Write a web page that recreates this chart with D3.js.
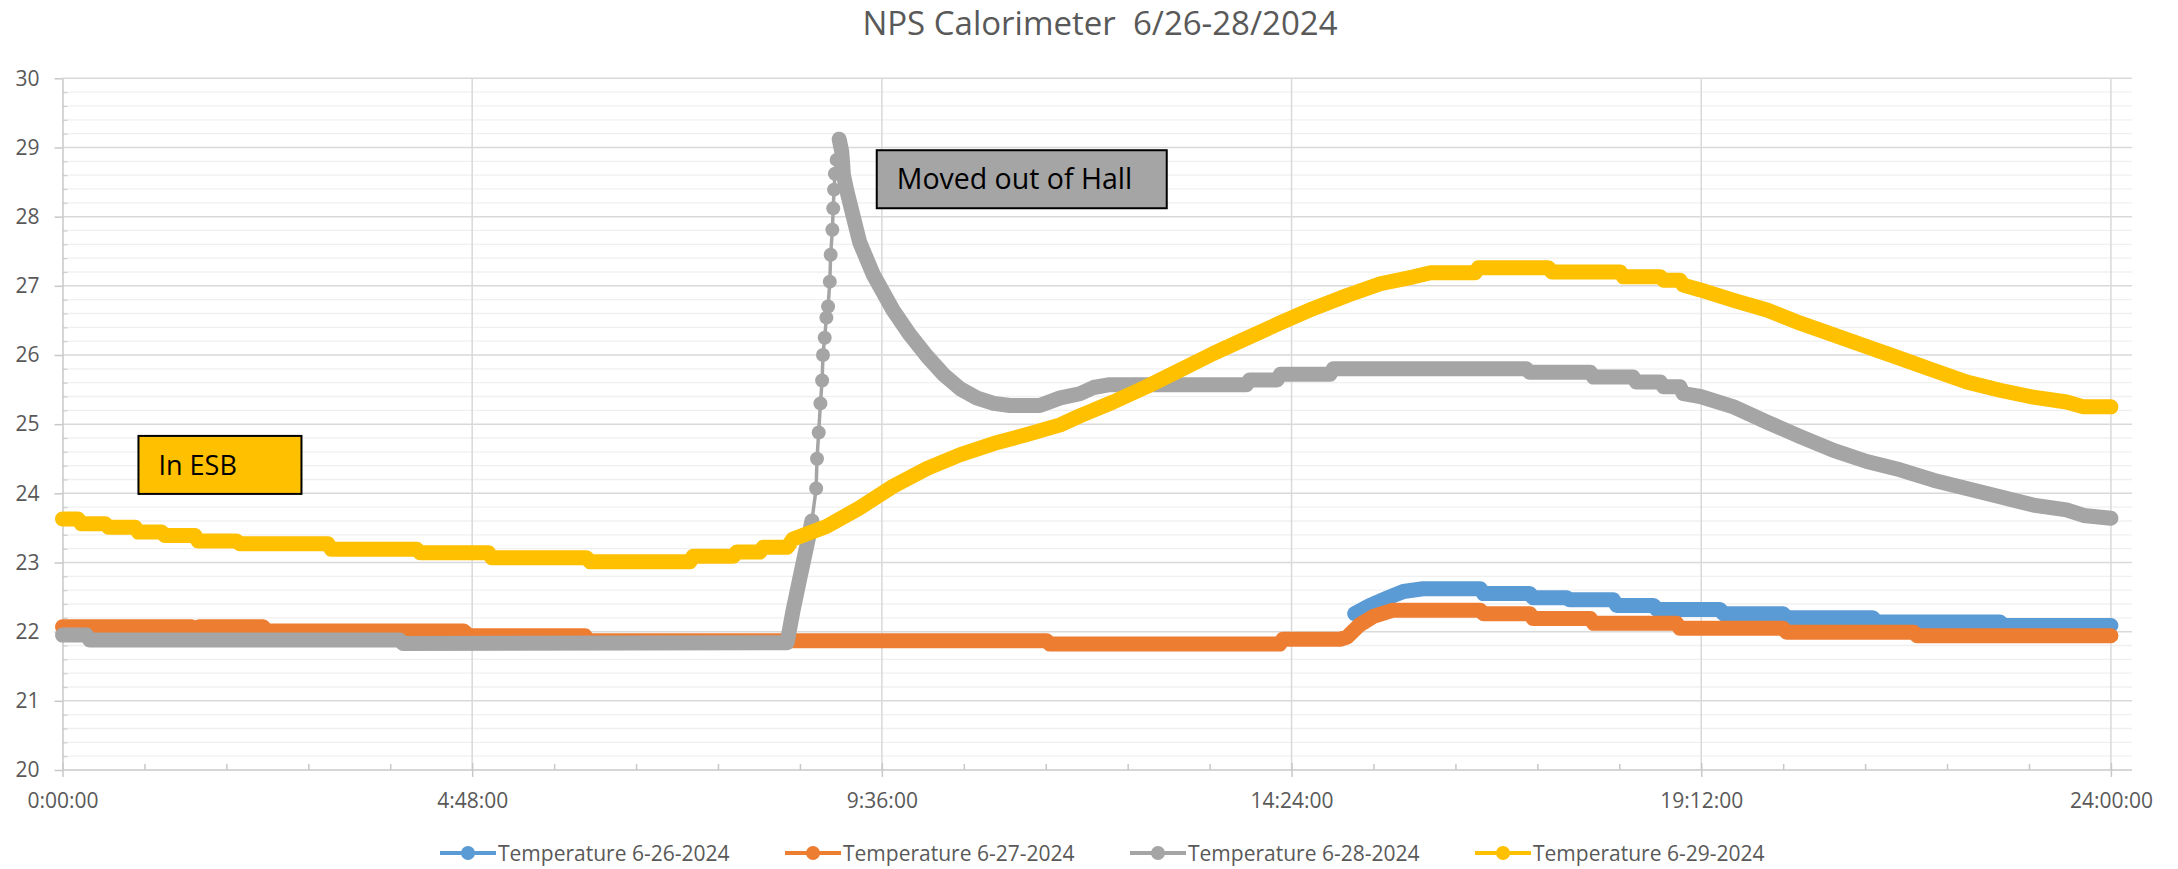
<!DOCTYPE html>
<html>
<head>
<meta charset="utf-8">
<script src="https://cdn.jsdelivr.net/npm/d3@7"></script>
<style>
  body { margin: 0; background: #fff; }
  svg { display: block; font-family: "Open Sans", sans-serif; }
</style>
</head>
<body>
<div id="root"></div>
<script>
// chart text
const chartTitle = "NPS Calorimeter  6/26-28/2024";
const seriesNames = ["Temperature 6-26-2024", "Temperature 6-27-2024", "Temperature 6-28-2024", "Temperature 6-29-2024"];
const seriesColors = ["#5b9bd5", "#ed7d31", "#a5a5a5", "#ffc000"];
const xTickHours = [0, 4.8, 9.6, 14.4, 19.2, 24];
const xTickLabels = ["0:00:00", "4:48:00", "9:36:00", "14:24:00", "19:12:00", "24:00:00"];
const yTicks = [20, 21, 22, 23, 24, 25, 26, 27, 28, 29, 30];

// 6-26 (time in hours, temperature)
const blueTimes = [15.14, 15.32, 15.51, 15.71, 15.94, 16.61, 16.65, 17.19, 17.23, 17.62, 17.66, 18.17, 18.21, 18.64, 18.68, 19.42, 19.46, 20.16, 20.20, 21.21, 21.25, 22.70, 22.74, 24.00];
const blueTemps = [22.26, 22.38, 22.48, 22.58, 22.62, 22.62, 22.55, 22.55, 22.49, 22.49, 22.46, 22.46, 22.38, 22.38, 22.32, 22.32, 22.26, 22.26, 22.20, 22.20, 22.14, 22.14, 22.09, 22.09];

// 6-27
const orangeTimes = [0, 1.51, 1.54, 1.60, 2.35, 2.39, 4.70, 4.76, 6.12, 6.16, 11.53, 11.57, 14.26, 14.30, 14.97, 15.05, 15.20, 15.36, 15.59, 16.61, 16.65, 17.19, 17.23, 17.90, 17.94, 18.91, 18.95, 20.16, 20.20, 21.69, 21.73, 24.00];
const orangeTemps = [22.07, 22.07, 22.01, 22.07, 22.07, 22.01, 22.01, 21.94, 21.94, 21.87, 21.87, 21.82, 21.82, 21.89, 21.89, 21.92, 22.10, 22.22, 22.31, 22.31, 22.26, 22.26, 22.19, 22.19, 22.12, 22.12, 22.05, 22.05, 21.99, 21.99, 21.94, 21.94];

// 6-28
const grayTimes = [0, 0.28, 0.32, 3.95, 3.99, 8.49, 8.56, 8.64, 8.72, 8.78,
  8.83, 8.84, 8.86, 8.88, 8.90, 8.91, 8.93, 8.95, 8.97, 8.99, 9.00, 9.02, 9.03, 9.04, 9.05, 9.07, 9.10,
  9.13, 9.15, 9.19, 9.34, 9.50, 9.73, 9.93, 10.13, 10.32, 10.52, 10.71, 10.91, 11.10, 11.45, 11.69, 11.92, 12.08, 12.27,
  13.87, 13.91, 14.23, 14.27, 14.85, 14.89, 17.15, 17.19, 17.90, 17.94, 18.40, 18.44, 18.72, 18.76, 18.95, 18.99,
  19.19, 19.58, 19.97, 20.36, 20.75, 21.14, 21.53, 21.92, 22.31, 22.70, 23.09, 23.48, 23.68, 24.00];
const grayTemps = [21.95, 21.95, 21.88, 21.88, 21.83, 21.84, 22.31, 22.78, 23.24, 23.60,
  24.07, 24.50, 24.88, 25.30, 25.63, 26.00, 26.25, 26.54, 26.70, 27.06, 27.45, 27.81, 28.12, 28.39, 28.62, 28.82, 29.12,
  28.94, 28.60, 28.37, 27.63, 27.16, 26.65, 26.29, 25.98, 25.72, 25.51, 25.38, 25.30, 25.27, 25.27, 25.38, 25.44, 25.53, 25.57,
  25.57, 25.64, 25.64, 25.72, 25.72, 25.80, 25.80, 25.75, 25.75, 25.68, 25.68, 25.61, 25.61, 25.54, 25.54, 25.44,
  25.40, 25.25, 25.03, 24.82, 24.62, 24.46, 24.34, 24.19, 24.07, 23.95, 23.83, 23.76, 23.68, 23.64];
// the fast rise, where single samples show apart
const spikeFrom = 8.78, spikeTo = 9.10;

// 6-29
const yellowTimes = [0, 0.18, 0.22, 0.50, 0.54, 0.85, 0.89, 1.16, 1.20, 1.55, 1.59, 2.04, 2.08, 3.11, 3.15, 4.15, 4.19, 4.99, 5.03, 6.14, 6.18, 7.35, 7.39, 7.86, 7.90, 8.17, 8.21, 8.49,
  8.56, 8.95, 9.34, 9.73, 10.13, 10.52, 10.91, 11.30, 11.69, 11.92, 12.31, 12.70, 13.09, 13.48, 13.87, 14.26, 14.65, 15.05, 15.44, 15.83,
  16.03, 16.55, 16.59, 17.41, 17.45, 18.25, 18.29, 18.72, 18.76, 18.95, 18.99,
  19.19, 19.58, 19.97, 20.36, 20.75, 21.14, 21.53, 21.92, 22.31, 22.70, 23.09, 23.48, 23.68, 24.00];
const yellowTemps = [23.63, 23.63, 23.56, 23.56, 23.51, 23.51, 23.44, 23.44, 23.39, 23.39, 23.31, 23.31, 23.27, 23.27, 23.19, 23.19, 23.14, 23.14, 23.07, 23.07, 23.01, 23.01, 23.09, 23.09, 23.15, 23.15, 23.22, 23.22,
  23.34, 23.52, 23.79, 24.10, 24.36, 24.56, 24.72, 24.85, 24.99, 25.12, 25.32, 25.54, 25.78, 26.02, 26.24, 26.46, 26.67, 26.86, 27.03, 27.13,
  27.19, 27.19, 27.26, 27.26, 27.20, 27.20, 27.13, 27.13, 27.08, 27.08, 27.01,
  26.94, 26.79, 26.65, 26.46, 26.29, 26.12, 25.95, 25.78, 25.61, 25.49, 25.39, 25.32, 25.25, 25.25];

var width = 2178, height = 869;
var textColor = "#595959";

var svg = d3.select("#root")
    .append("svg")
    .attr("width", width)
    .attr("height", height);

var x = d3.scaleLinear().domain([0, 24.247]).range([62.5, 2132]);
var y = d3.scaleLinear().domain([20, 30]).range([770, 78.3]);

// minor horizontal gridlines
var minorY = d3.range(20.2, 30, 0.2).filter(v => Math.abs(v - Math.round(v)) > 0.01);
svg.append("g").selectAll("line").data(minorY).join("line")
    .attr("x1", x(0)).attr("x2", x.range()[1])
    .attr("y1", d => y(d)).attr("y2", d => y(d))
    .attr("stroke", "#f0f0f0").attr("stroke-width", 1.3);

// major horizontal gridlines
svg.append("g").selectAll("line").data(yTicks.slice(1)).join("line")
    .attr("x1", x(0)).attr("x2", x.range()[1])
    .attr("y1", d => y(d)).attr("y2", d => y(d))
    .attr("stroke", "#d9d9d9").attr("stroke-width", 1.5);

// vertical gridlines
svg.append("g").selectAll("line").data(xTickHours.slice(1)).join("line")
    .attr("x1", d => x(d)).attr("x2", d => x(d))
    .attr("y1", y(30)).attr("y2", y(20))
    .attr("stroke", "#d9d9d9").attr("stroke-width", 1.5);

// y axis with minor ticks inside
svg.append("g")
    .attr("transform", "translate(" + x(0) + ",0)")
    .call(d3.axisLeft(y).tickValues(minorY).tickSize(-5).tickFormat(""))
    .call(g => g.select(".domain").remove())
    .selectAll("line").attr("stroke", "#d0d0d0").attr("stroke-width", 1.3);

svg.append("g")
    .attr("transform", "translate(" + x(0) + ",0)")
    .call(d3.axisLeft(y).tickValues(yTicks).tickSize(8).tickPadding(15).tickSizeOuter(0))
    .call(g => g.select(".domain").attr("stroke", "#c8c8c8").attr("stroke-width", 1.5))
    .call(g => g.selectAll("line").attr("stroke", "#c8c8c8").attr("stroke-width", 1.5))
    .call(g => g.selectAll("text").attr("fill", textColor).style("font-size", "21px")
        .style("font-family", "'Open Sans', sans-serif"));

// x axis
var minorX = d3.range(0.96, 24, 0.96).filter(h => Math.abs(h / 4.8 - Math.round(h / 4.8)) > 0.01);
svg.append("g")
    .attr("transform", "translate(0," + y(20) + ")")
    .call(d3.axisBottom(x).tickValues(minorX).tickSize(-6).tickFormat(""))
    .call(g => g.select(".domain").remove())
    .selectAll("line").attr("stroke", "#c8c8c8").attr("stroke-width", 1.5);

svg.append("line")
    .attr("x1", x(0)).attr("x2", x.range()[1])
    .attr("y1", y(20)).attr("y2", y(20))
    .attr("stroke", "#c8c8c8").attr("stroke-width", 1.5);

svg.append("g")
    .attr("transform", "translate(0," + y(20) + ")")
    .call(d3.axisBottom(x).tickValues(xTickHours).tickSize(7).tickPadding(16)
        .tickFormat((d, i) => xTickLabels[i]))
    .call(g => g.select(".domain").remove())
    .call(g => g.selectAll("line").attr("stroke", "#c8c8c8").attr("stroke-width", 1.5)
        .attr("y1", -7))
    .call(g => g.selectAll("text").attr("fill", textColor).style("font-size", "21px")
        .style("font-family", "'Open Sans', sans-serif"));

// series
function zip(ts, vs) { return ts.map((t, i) => ({ t: t, v: vs[i] })); }

var line = d3.line().x(d => x(d.t)).y(d => y(d.v));
var bandWidth = 15;

function band(data, color) {
    svg.append("path")
        .datum(data)
        .attr("fill", "none")
        .attr("stroke", color)
        .attr("stroke-width", bandWidth)
        .attr("stroke-linecap", "round")
        .attr("stroke-linejoin", "round")
        .attr("d", line);
}

band(zip(blueTimes, blueTemps), seriesColors[0]);
band(zip(orangeTimes, orangeTemps), seriesColors[1]);

var gray = zip(grayTimes, grayTemps);
band(gray.filter(d => d.t <= spikeFrom), seriesColors[2]);
var spike = gray.filter(d => d.t >= spikeFrom && d.t <= spikeTo);
svg.append("path")
    .datum(spike)
    .attr("fill", "none")
    .attr("stroke", seriesColors[2])
    .attr("stroke-width", 3.5)
    .attr("d", line);
svg.append("g").selectAll("circle").data(spike).join("circle")
    .attr("cx", d => x(d.t)).attr("cy", d => y(d.v)).attr("r", 7)
    .attr("fill", seriesColors[2]);
band(gray.filter(d => d.t >= spikeTo), seriesColors[2]);

band(zip(yellowTimes, yellowTemps), seriesColors[3]);

// annotation boxes
function note(t, v, w, h, txt, fill, size) {
    var g = svg.append("g").attr("transform", "translate(" + x(t) + "," + y(v) + ")");
    g.append("rect").attr("width", w).attr("height", h)
        .attr("fill", fill).attr("stroke", "#000").attr("stroke-width", 2);
    g.append("text").attr("x", 20).attr("y", 39)
        .style("font-size", size + "px").attr("fill", "#000").text(txt);
}
note(9.54, 28.96, 290, 58, "Moved out of Hall", "#a5a5a5", 28.5);
note(0.89, 24.83, 163, 58, "In ESB", "#ffc000", 27);

// title
svg.append("text")
    .attr("x", 1100).attr("y", 35)
    .attr("text-anchor", "middle")
    .style("white-space", "pre")
    .style("font-size", "33px")
    .attr("fill", textColor)
    .text(chartTitle);

// legend
var legend = svg.append("g").selectAll("g").data(seriesNames).join("g")
    .attr("transform", (d, i) => "translate(" + (440 + i * 345) + ",853)");
legend.append("line").attr("x1", 0).attr("x2", 56)
    .attr("stroke", (d, i) => seriesColors[i]).attr("stroke-width", 4);
legend.append("circle").attr("cx", 28).attr("r", 7)
    .attr("fill", (d, i) => seriesColors[i]);
legend.append("text").attr("x", 58).attr("y", 7.5)
    .style("font-size", "21px").attr("fill", textColor)
    .text(d => d);
</script>
</body>
</html>
